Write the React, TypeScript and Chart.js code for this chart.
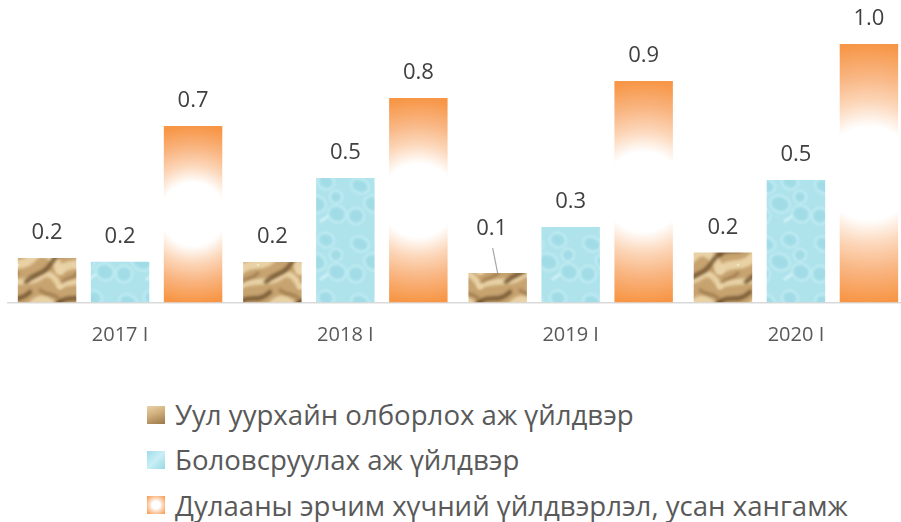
import React, { useEffect, useRef } from "react";
import { Chart, registerables } from "chart.js";

Chart.register(...registerables);

// ---- Data ----
const categories = ["2017 I", "2018 I", "2019 I", "2020 I"];
const seriesNames = [
  "Уул уурхайн олборлох аж үйлдвэр",
  "Боловсруулах аж үйлдвэр",
  "Дулааны эрчим хүчний үйлдвэрлэл, усан хангамж",
];
const mining = [0.172, 0.157, 0.114, 0.193];
const manufacturing = [0.158, 0.482, 0.292, 0.474];
const energy = [0.683, 0.791, 0.857, 1.0];

const FONT = "'Open Sans', 'Noto Sans', sans-serif";
const CAT_PCT = 0.972;
const BAR_PCT = 0.801;

function eachWrap(w: number, h: number, fn: (ox: number, oy: number) => void) {
  for (const ox of [-w, 0, w]) for (const oy of [-h, 0, h]) fn(ox, oy);
}

function makeSandPattern(): CanvasPattern | string {
  const W = 60;
  const H = 48;
  const c = document.createElement("canvas");
  c.width = W;
  c.height = H;
  const g = c.getContext("2d");
  if (!g) return "#c9a775";
  g.fillStyle = "#c7a370";
  g.fillRect(0, 0, W, H);
  g.lineCap = "round";
  (g as any).filter = "blur(1.5px)";
  eachWrap(W, H, (ox, oy) => {
    g.save();
    g.translate(ox, oy);
    g.strokeStyle = "rgba(234,212,168,0.95)";
    g.lineWidth = 9;
    g.beginPath();
    g.moveTo(0, 30);
    g.bezierCurveTo(12, 20, 22, 30, 34, 16);
    g.bezierCurveTo(42, 8, 52, 12, 60, 30);
    g.stroke();
    g.lineWidth = 6;
    g.beginPath();
    g.moveTo(0, 46);
    g.bezierCurveTo(14, 38, 30, 46, 42, 36);
    g.bezierCurveTo(50, 30, 56, 40, 60, 46);
    g.stroke();
    g.strokeStyle = "rgba(112,82,46,0.85)";
    g.lineWidth = 4.5;
    g.beginPath();
    g.moveTo(0, 14);
    g.bezierCurveTo(10, 6, 18, 16, 30, 4);
    g.stroke();
    g.beginPath();
    g.moveTo(26, 42);
    g.bezierCurveTo(36, 32, 44, 36, 52, 22);
    g.bezierCurveTo(56, 16, 58, 15, 60, 14);
    g.stroke();
    g.strokeStyle = "rgba(140,104,62,0.65)";
    g.lineWidth = 3;
    g.beginPath();
    g.moveTo(2, 42);
    g.bezierCurveTo(8, 36, 12, 40, 18, 33);
    g.stroke();
    g.beginPath();
    g.moveTo(40, 2);
    g.bezierCurveTo(46, 8, 52, 4, 58, 10);
    g.stroke();
    g.restore();
  });
  (g as any).filter = "none";
  g.fillStyle = "rgba(245,232,205,0.8)";
  g.beginPath();
  g.arc(18, 25, 1.3, 0, Math.PI * 2);
  g.fill();
  return g.createPattern(c, "repeat") || "#c9a775";
}

function makeWaterPattern(): CanvasPattern | string {
  const W = 58;
  const H = 58;
  const c = document.createElement("canvas");
  c.width = W;
  c.height = H;
  const g = c.getContext("2d");
  if (!g) return "#a9e2ec";
  g.fillStyle = "#aee3ec";
  g.fillRect(0, 0, W, H);
  (g as any).filter = "blur(1.3px)";
  const cells: [number, number, number, number][] = [
    [12, 12, 7, 5],
    [36, 8, 6, 5],
    [26, 30, 8, 6],
    [8, 42, 6, 6],
    [47, 40, 7, 6],
    [46, 23, 4, 4],
  ];
  eachWrap(W, H, (ox, oy) => {
    g.save();
    g.translate(ox, oy);
    g.fillStyle = "rgba(140,208,220,0.38)";
    cells.forEach(([x, y, rx, ry]) => {
      g.beginPath();
      g.ellipse(x, y, rx, ry, 0.4, 0, Math.PI * 2);
      g.fill();
    });
    g.strokeStyle = "rgba(208,242,247,0.6)";
    g.lineWidth = 1.8;
    cells.forEach(([x, y, rx, ry]) => {
      g.beginPath();
      g.ellipse(x, y, rx + 2.5, ry + 2.5, 0.4, 0, Math.PI * 2);
      g.stroke();
    });
    g.strokeStyle = "rgba(225,248,251,0.8)";
    g.lineWidth = 2.2;
    g.beginPath();
    g.moveTo(30, 48);
    g.lineTo(38, 42);
    g.stroke();
    g.restore();
  });
  (g as any).filter = "none";
  return g.createPattern(c, "repeat") || "#a9e2ec";
}

const valueLabels = {
  id: "valueLabels",
  afterDatasetsDraw(chart: any, _args: any, opts: any) {
    const ctx: CanvasRenderingContext2D = chart.ctx;
    ctx.save();
    ctx.font = `22px ${FONT}`;
    ctx.fillStyle = "#404040";
    ctx.textAlign = "center";
    ctx.textBaseline = "middle";
    chart.data.datasets.forEach((ds: any, di: number) => {
      const meta = chart.getDatasetMeta(di);
      meta.data.forEach((el: any, i: number) => {
        const v = ds.data[i] as number;
        let x = el.x;
        let y = el.y - 25;
        const co = opts && opts.callout;
        if (co && co.datasetIndex === di && co.index === i) {
          x += co.dx;
          y += co.dy;
          ctx.save();
          ctx.strokeStyle = "#a6a6a6";
          ctx.lineWidth = 1.2;
          ctx.beginPath();
          ctx.moveTo(x + 1, y + 19);
          ctx.lineTo(el.x, el.y);
          ctx.stroke();
          ctx.restore();
        }
        ctx.fillText(v.toFixed(1), x, y);
      });
    });
    ctx.restore();
  },
};

function energyFill(c: any) {
  const chart = c.chart;
  const ys = chart.scales && chart.scales.y;
  const xs = chart.scales && chart.scales.x;
  if (!ys || !xs || c.type !== "data") return "#f79646";
  const v = c.raw as number;
  const top = ys.getPixelForValue(v);
  const bot = ys.getPixelForValue(0);
  const nDs = chart.data.datasets.length;
  const slot = (xs.width / categories.length) * CAT_PCT / nDs;
  const cx = xs.getPixelForValue(c.dataIndex) + (c.datasetIndex - (nDs - 1) / 2) * slot;
  if (![top, bot, cx].every((n) => Number.isFinite(n)) || bot - top < 1) return "#f79646";
  const cy = (top + bot) / 2;
  const R = (bot - top) / 2;
  const g = chart.ctx.createRadialGradient(cx, cy, 0, cx, cy, R);
  g.addColorStop(0, "#ffffff");
  g.addColorStop(0.36, "#ffffff");
  g.addColorStop(0.55, "#fcd7ba");
  g.addColorStop(0.75, "#f9b683");
  g.addColorStop(1, "#f79646");
  return g;
}

const legendSwatches = [
  "linear-gradient(160deg, #e9d3aa 0%, #cfae7b 45%, #9c7648 100%)",
  "linear-gradient(135deg, #9fdce7 0%, #c9eff5 50%, #98d8e4 100%)",
  "radial-gradient(circle, #ffffff 30%, #fbc59b 65%, #f79646 100%)",
];

export default function App() {
  const canvasRef = useRef<HTMLCanvasElement | null>(null);

  useEffect(() => {
    const canvas = canvasRef.current;
    if (!canvas) return;
    const chart = new Chart(canvas, {
      type: "bar",
      data: {
        labels: categories,
        datasets: [
          {
            label: seriesNames[0],
            data: mining,
            backgroundColor: makeSandPattern() as any,
            borderWidth: 0,
            categoryPercentage: CAT_PCT,
            barPercentage: BAR_PCT,
          },
          {
            label: seriesNames[1],
            data: manufacturing,
            backgroundColor: makeWaterPattern() as any,
            borderWidth: 0,
            categoryPercentage: CAT_PCT,
            barPercentage: BAR_PCT,
          },
          {
            label: seriesNames[2],
            data: energy,
            backgroundColor: energyFill as any,
            borderWidth: 0,
            categoryPercentage: CAT_PCT,
            barPercentage: BAR_PCT,
          },
        ],
      },
      options: {
        animation: false,
        responsive: false,
        maintainAspectRatio: false,
        layout: { padding: { left: 7.4, right: 1.4, top: 18.15, bottom: 0.5 } },
        scales: {
          x: {
            grid: { display: false, drawTicks: false },
            border: { display: true, color: "#d9d9d9", width: 1.5 },
            ticks: {
              color: "#595959",
              font: { family: FONT, size: 20 },
              padding: 21,
              maxRotation: 0,
            },
          },
          y: { display: false, min: 0, max: 1.1 },
        },
        plugins: {
          legend: { display: false },
          tooltip: { enabled: false },
          valueLabels: { callout: { datasetIndex: 0, index: 2, dx: -6, dy: -19 } },
        } as any,
      },
      plugins: [valueLabels as any],
    });
    return () => chart.destroy();
  }, []);

  return (
    <div
      style={{
        position: "fixed",
        left: 0,
        top: 0,
        width: 901,
        height: 522,
        overflow: "hidden",
        background: "#ffffff",
      }}
    >
      <canvas
        ref={canvasRef}
        width={910}
        height={369}
        style={{ position: "absolute", left: 0, top: 0, width: 910, height: 369 }}
      />
      <div style={{ position: "absolute", left: 147, top: 392, fontFamily: FONT }}>
        {seriesNames.map((name, i) => (
          <div
            key={name}
            style={{
              display: "flex",
              alignItems: "center",
              height: 45.3,
              lineHeight: "45px",
              fontSize: 27.6,
              color: "#595959",
              whiteSpace: "nowrap",
            }}
          >
            <span
              style={{
                display: "inline-block",
                width: 18,
                height: 18,
                marginRight: 10,
                background: legendSwatches[i],
              }}
            />
            <span>{name}</span>
          </div>
        ))}
      </div>
    </div>
  );
}
